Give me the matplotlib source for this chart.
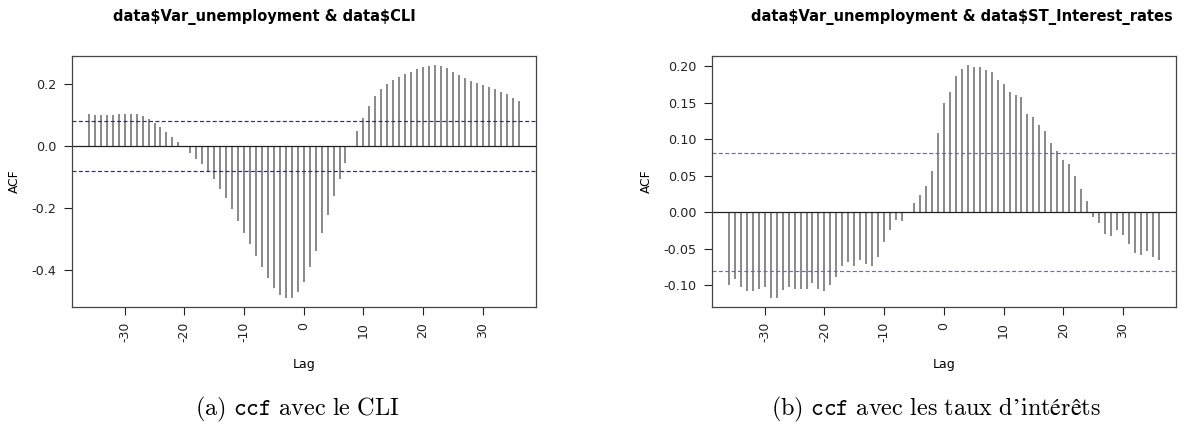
#!/usr/bin/env python3
import numpy as np
import matplotlib
matplotlib.use("Agg")
import matplotlib.pyplot as plt

# =========================
# Data
# =========================
lags = list(range(-36, 37))

ccf_cli = [
    0.101, 0.099, 0.099, 0.100, 0.100, 0.101, 0.103, 0.103, 0.102, 0.097,
    0.087, 0.074, 0.060, 0.045, 0.029, 0.012, -0.005, -0.024, -0.042, -0.060,
    -0.084, -0.109, -0.139, -0.169, -0.204, -0.243, -0.281, -0.318, -0.356, -0.391,
    -0.427, -0.458, -0.480, -0.490, -0.490, -0.472, -0.438, -0.391, -0.339, -0.281,
    -0.223, -0.163, -0.109, -0.055, -0.003, 0.048, 0.090, 0.128, 0.159, 0.183,
    0.200, 0.212, 0.222, 0.231, 0.239, 0.246, 0.255, 0.257, 0.259, 0.257,
    0.251, 0.239, 0.228, 0.217, 0.208, 0.201, 0.195, 0.188, 0.182, 0.174,
    0.166, 0.155, 0.145,
]

ccf_rates = [
    -0.100, -0.092, -0.102, -0.108, -0.108, -0.105, -0.103, -0.117, -0.117, -0.107,
    -0.103, -0.105, -0.105, -0.105, -0.097, -0.105, -0.108, -0.100, -0.088, -0.073,
    -0.068, -0.073, -0.065, -0.071, -0.074, -0.061, -0.041, -0.024, -0.011, -0.012,
    -0.001, 0.012, 0.024, 0.036, 0.057, 0.108, 0.149, 0.165, 0.187, 0.196,
    0.201, 0.199, 0.199, 0.194, 0.192, 0.181, 0.176, 0.165, 0.160, 0.157,
    0.135, 0.130, 0.119, 0.111, 0.095, 0.084, 0.071, 0.066, 0.050, 0.032,
    0.015, -0.006, -0.015, -0.030, -0.032, -0.024, -0.031, -0.044, -0.056, -0.058,
    -0.053, -0.061, -0.065,
]

conf_bound = 0.0806

titles = [
    r"data\$Var_unemployment & data\$CLI",
    r"data\$Var_unemployment & data\$ST_Interest_rates",
]
captions = [
    r"$\mathrm{(a)}\ \mathtt{ccf}\ \mathrm{avec\ le\ CLI}$",
    r"$\mathrm{(b)}\ \mathtt{ccf}\ \mathrm{avec\ les\ taux\ d’intérêts}$",
]
xticks = [-30, -20, -10, 0, 10, 20, 30]
yticks = [
    [0.2, 0.0, -0.2, -0.4],
    [0.20, 0.15, 0.10, 0.05, 0.00, -0.05, -0.10],
]
ytick_fmt = ["{:.1f}", "{:.2f}"]

# =========================
# Plot
# =========================
plt.rcParams["mathtext.fontset"] = "cm"
plt.rcParams["axes.unicode_minus"] = False
W, H = 1189, 433
fig = plt.figure(figsize=(W / 100, H / 100), dpi=100)

axes_px = [(71.7, 535.7), (711.7, 1176.0)]
top_px, bottom_px = 56.0, 307.0
title_x = [264, 962]
caption_x = [297, 936]
blues = ["#1f1fe6", "#6060ff"]

for k, vals in enumerate([ccf_cli, ccf_rates]):
    l, r = axes_px[k]
    ax = fig.add_axes([l / W, 1 - bottom_px / H, (r - l) / W, (bottom_px - top_px) / H])
    ax.vlines(lags, 0, vals, color="#6a6a6a", lw=1.1)
    ax.margins(x=0.04, y=0.04)
    ax.axhline(0, color="#222222", lw=0.9)
    for s in (1, -1):
        ax.axhline(s * conf_bound, color=blues[k], lw=0.85, ls=(0, (3.4, 2.0)))

    ax.set_xticks(xticks)
    ax.set_xticklabels([str(t) for t in xticks], rotation=90, fontsize=9)
    ax.set_yticks(yticks[k])
    ax.set_yticklabels([ytick_fmt[k].format(t) for t in yticks[k]], fontsize=9.2)
    ax.tick_params(direction="out", length=5.8, width=0.8, pad=5, colors="#222222")
    for sp in ax.spines.values():
        sp.set_color("#444444")
        sp.set_linewidth(0.9)
    ax.set_xlabel("Lag", fontsize=9, labelpad=11)
    ax.set_ylabel("ACF", fontsize=8.8, labelpad=8)

    fig.text(title_x[k] / W, 1 - 17 / H, titles[k], ha="center", va="center",
             fontsize=10.5, fontweight="bold")
    fig.text(caption_x[k] / W, 1 - 409 / H, captions[k], ha="center", va="center",
             fontsize=17.5)

fig.savefig("out.png", dpi=100)
plt.close(fig)
